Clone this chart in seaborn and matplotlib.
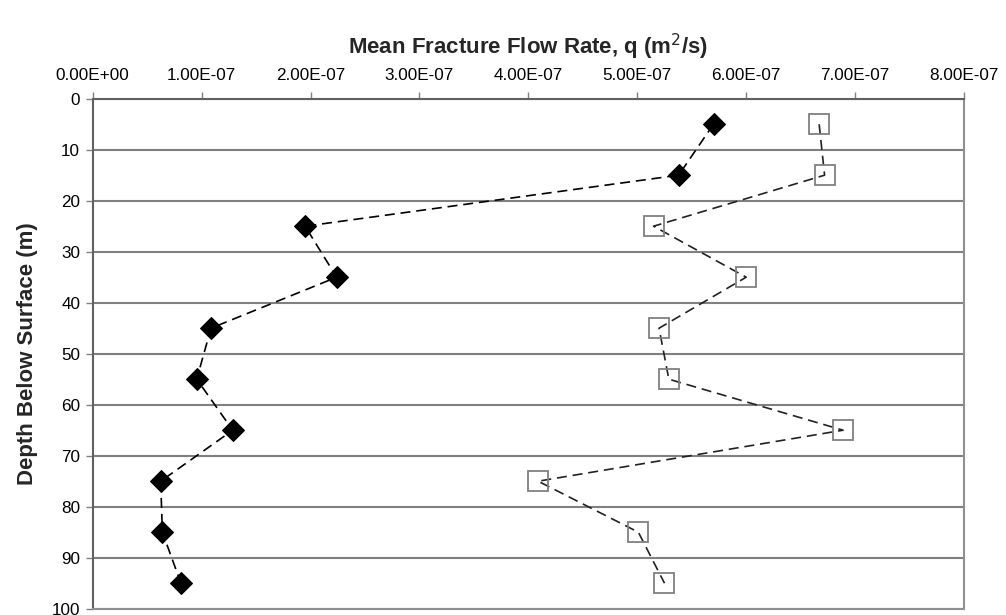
import matplotlib
matplotlib.use("Agg")
import matplotlib.pyplot as plt
import seaborn as sns
import pandas as pd
from matplotlib.ticker import FuncFormatter, MultipleLocator

depth = [5, 15, 25, 35, 45, 55, 65, 75, 85, 95]
q_diamond = [5.70e-7, 5.38e-7, 1.95e-7, 2.24e-7, 1.086e-7, 0.955e-7, 1.286e-7, 0.624e-7, 0.64e-7, 0.81e-7]
q_square = [6.67e-7, 6.72e-7, 5.15e-7, 6.00e-7, 5.20e-7, 5.29e-7, 6.89e-7, 4.09e-7, 5.01e-7, 5.25e-7]

title = "Mean Fracture Flow Rate, q (m$^2$/s)"
ylabel = "Depth Below Surface (m)"

sns.set_theme(style="white")
plt.rcParams['font.family'] = ['Liberation Sans', 'DejaVu Sans']

fig = plt.figure(figsize=(10.06, 6.15), dpi=100)
ax = fig.add_axes([92.7 / 1006, 1 - 608.7 / 615, (964 - 92.7) / 1006, (608.7 - 98.7) / 615])

df1 = pd.DataFrame({"q": q_diamond, "depth": depth})
df2 = pd.DataFrame({"q": q_square, "depth": depth})

sns.lineplot(data=df1, x="q", y="depth", sort=False, estimator=None, ax=ax,
             color="black", linewidth=1.2, linestyle=(0, (6, 3.5)),
             marker="D", markersize=11.5, markerfacecolor="black",
             markeredgecolor="black", zorder=3)
sns.lineplot(data=df2, x="q", y="depth", sort=False, estimator=None, ax=ax,
             color="#222222", linewidth=1.2, linestyle=(0, (6, 3.5)),
             marker="s", markersize=14, markerfacecolor="none",
             markeredgecolor="#808080", markeredgewidth=1.3, zorder=3)

ax.set_xlim(0, 8e-7)
ax.set_ylim(100, 0)
ax.xaxis.set_major_locator(MultipleLocator(1e-7))
ax.yaxis.set_major_locator(MultipleLocator(10))
ax.xaxis.set_major_formatter(FuncFormatter(lambda v, p: f"{v:.2E}"))
ax.xaxis.tick_top()
ax.xaxis.set_label_position("top")
ax.tick_params(axis="x", which="major", direction="out", length=5, width=1,
               color="#808080", labelsize=12.3, labelcolor="black", pad=6,
               top=True, bottom=False)
ax.tick_params(axis="y", which="major", direction="out", length=5, width=1,
               color="#808080", labelsize=12.3, labelcolor="black", pad=4, left=True)

ax.grid(axis="y", color="#808080", linewidth=1.5)
ax.grid(axis="x", visible=False)
ax.set_axisbelow(True)

for side in ["top", "left"]:
    ax.spines[side].set_color("#606060")
    ax.spines[side].set_linewidth(1.5)
for side in ["right", "bottom"]:
    ax.spines[side].set_color("#909090")
    ax.spines[side].set_linewidth(1.5)

ax.set_xlabel("")
ax.set_ylabel(ylabel, fontsize=16, fontweight="bold", labelpad=10)
fig.text((92.7 + 964) / 2 / 1006, 1 - 47 / 615, title, ha="center", va="center",
         fontsize=16, fontweight="bold")

fig.savefig("out.png", dpi=100)
